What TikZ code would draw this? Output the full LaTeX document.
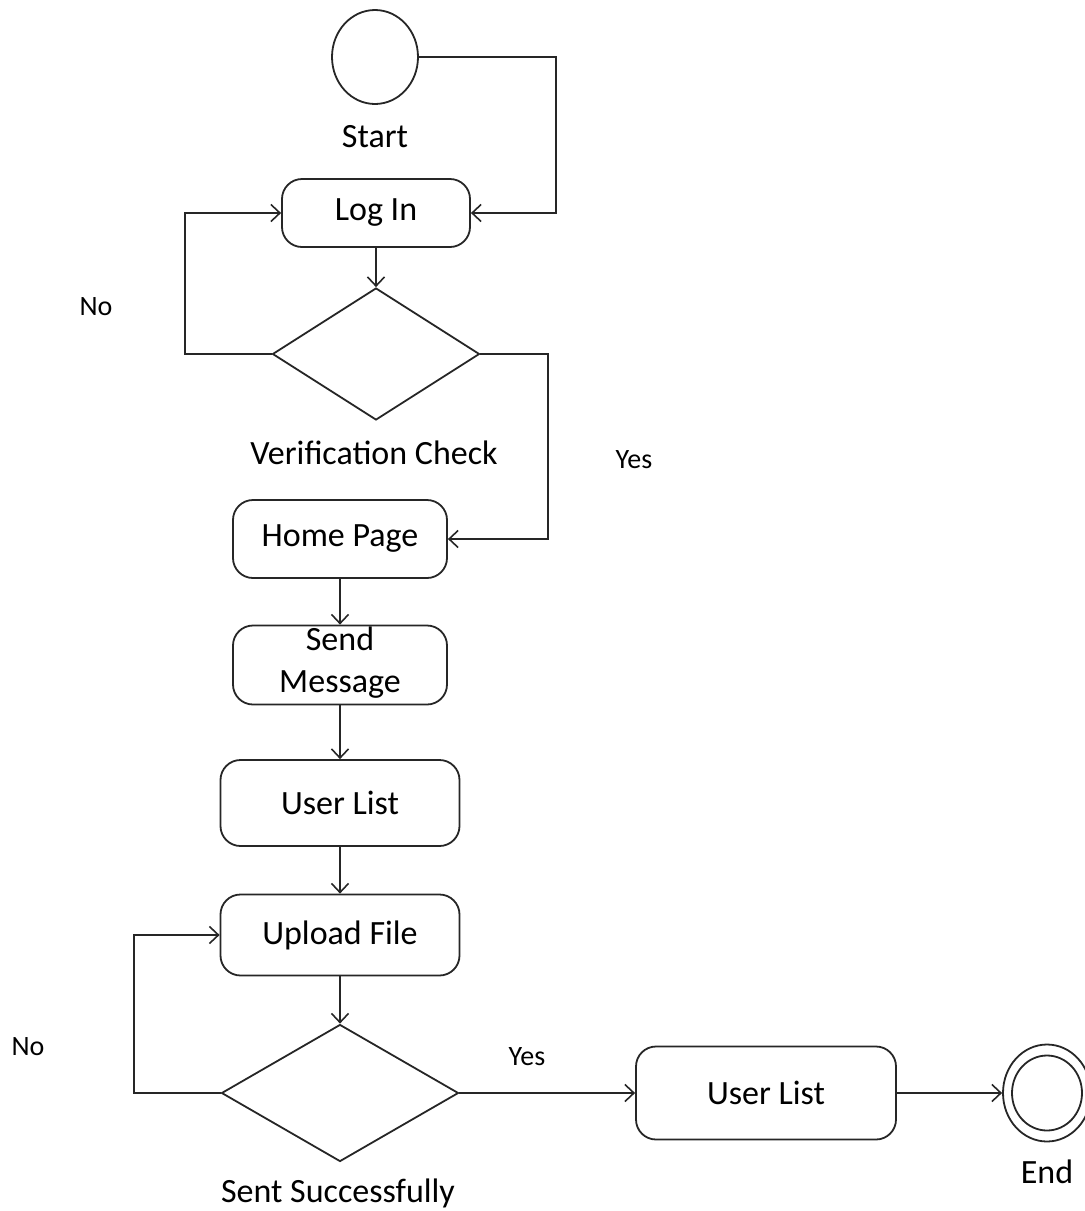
\documentclass[tikz,border=0pt]{standalone}
\usepackage{fontspec}
\setmainfont{Carlito}
\usetikzlibrary{shapes.geometric,arrows.meta}
\begin{document}
\begin{tikzpicture}[x=1pt,y=-1pt,
  every node/.style={font=\fontsize{34}{42}\selectfont},
  line/.style={line width=1.8pt, draw=black!85},
  arr/.style={line, -{Straight Barb[length=9pt,width=17pt,line width=1.6pt]}},
  actbox/.style={line, rounded corners=20pt, rectangle, inner sep=0pt},
  decision/.style={line, diamond, inner sep=0pt},
  lbl/.style={inner sep=0pt, anchor=center},
  small/.style={lbl, font=\fontsize{28}{34}\selectfont}
]
\useasboundingbox (0,0) rectangle (1085,1211);

% start
\node[line, ellipse, minimum width=86pt, minimum height=94pt, inner sep=0pt] (start) at (375,57) {};
\node[lbl] (startl) at (375,137) {Start};

% log in
\node[actbox, minimum width=188pt, minimum height=68pt] (login) at (376,213) {Log In};
\node[decision, minimum width=207pt, minimum height=132pt] (ver) at (376,354) {};
\node[lbl] (verl) at (374,453) {Verification Check};

\node[actbox, minimum width=214pt, minimum height=78pt] (home) at (340,539) {Home Page};
\node[actbox, minimum width=214pt, minimum height=79pt] (send) at (340,665) {};
\node[lbl, align=center] (sendl) at (340,663) {Send\\Message};

\node[actbox, minimum width=239pt, minimum height=86pt] (ul1) at (340,803) {User List};
\node[actbox, minimum width=239pt, minimum height=81pt] (up) at (340,935) {Upload File};
\node[decision, minimum width=237pt, minimum height=137pt] (sent) at (340,1093) {};
\node[lbl] (sentl) at (338,1193) {Sent Successfully};

\node[actbox, minimum width=260pt, minimum height=93pt] (ul2) at (766,1093) {User List};

\node[line, ellipse, minimum width=88pt, minimum height=97pt, inner sep=0pt] (endo) at (1047,1093) {};
\node[line, ellipse, minimum width=70pt, minimum height=75pt, inner sep=0pt] (endi) at (1047,1093) {};
\node[lbl] (endl) at (1047,1172) {End};

% labels
\node[small] (no1) at (96,307) {No};
\node[small] (yes1) at (634,460) {Yes};
\node[small] (no2) at (28,1047) {No};
\node[small] (yes2) at (527,1057) {Yes};

% connectors
\draw[arr] (start.east) -- (556,57) |- (login.east);
\draw[arr] (login.south) -- (ver.north);
\draw[arr] (ver.west) -- (185,354) |- (login.west);
\draw[arr] (ver.east) -- (548,354) |- (home.east);
\draw[arr] (home.south) -- (send.north);
\draw[arr] (send.south) -- (ul1.north);
\draw[arr] (ul1.south) -- (up.north);
\draw[arr] (up.south) -- (sent.north);
\draw[arr] (sent.west) -- (134,1093) |- (up.west);
\draw[arr] (sent.east) -- (ul2.west);
\draw[arr] (ul2.east) -- (endo.west);
\end{tikzpicture}
\end{document}
